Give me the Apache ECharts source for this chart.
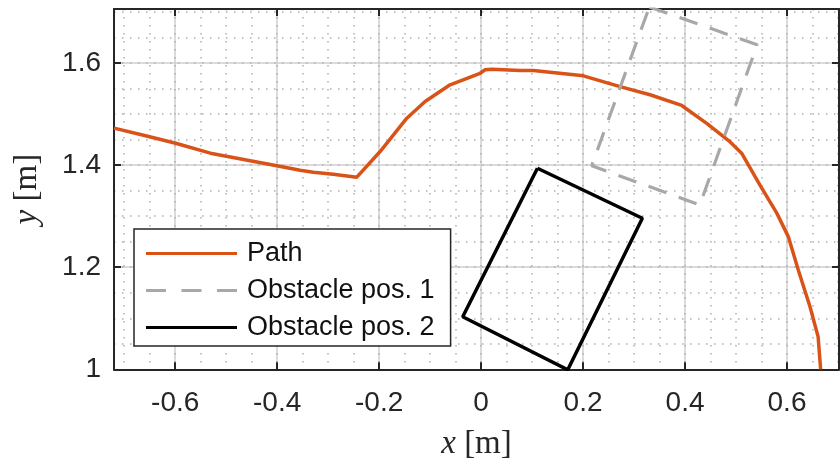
<!DOCTYPE html>
<html>
<head>
<meta charset="utf-8">
<script src="https://cdn.jsdelivr.net/npm/echarts@6/dist/echarts.min.js"></script>
<style>
  html, body { margin: 0; padding: 0; background: #fff; }
  #chart { width: 840px; height: 459px; }
</style>
</head>
<body>
<div id="chart"></div>
<script>
// Robot path in the plane, x/y in metres
const pathXY = [
  [-0.720, 1.4725], [-0.660, 1.458], [-0.599, 1.443], [-0.531, 1.4235],
  [-0.4006, 1.399], [-0.355, 1.390], [-0.329, 1.386], [-0.290, 1.382],
  [-0.2437, 1.3765], [-0.198, 1.4267], [-0.1457, 1.492], [-0.1098, 1.5247],
  [-0.0608, 1.5575], [-0.002, 1.580], [0.008, 1.587], [0.021, 1.588],
  [0.0765, 1.5855], [0.1026, 1.5855], [0.2006, 1.575], [0.2725, 1.554],
  [0.3314, 1.538], [0.3935, 1.517], [0.4425, 1.482], [0.488, 1.446],
  [0.511, 1.4235], [0.547, 1.361], [0.580, 1.306], [0.6025, 1.260],
  [0.622, 1.195], [0.645, 1.123], [0.661, 1.064], [0.666, 1.000]
];

// Obstacle outlines (closed rectangles)
const obstacle1XY = [[0.330, 1.710], [0.5415, 1.636], [0.429, 1.322], [0.217, 1.399], [0.330, 1.710]];
const obstacle2XY = [[0.1105, 1.394], [0.3163, 1.296], [0.170, 0.999], [-0.036, 1.103], [0.1105, 1.394]];

const seriesNames = ['Path', 'Obstacle pos. 1', 'Obstacle pos. 2'];

// Axis limits and tick spacing
const xLimits = [-0.72, 0.702];
const yLimits = [1.0, 1.706];
const majorStep = 0.2;
const minorStep = 0.05;

const axisColor = '#262626';
const tickFont = 'Liberation Sans, Arial, Helvetica, sans-serif';
const serifFont = 'Liberation Serif, Times New Roman, serif';

const nameRich = {
  i: { fontFamily: serifFont, fontStyle: 'italic', fontSize: 33, color: axisColor },
  n: { fontFamily: serifFont, fontSize: 33, color: axisColor }
};

function boxAxis(limits, position, showLabels, extra) {
  return Object.assign({
    type: 'value',
    min: limits[0],
    max: limits[1],
    position: position,
    splitNumber: Math.round((limits[1] - limits[0]) / majorStep),
    minInterval: majorStep,
    maxInterval: majorStep,
    axisLine: { show: true, onZero: false, lineStyle: { color: axisColor, width: 2 } },
    axisTick: { show: true, inside: true, length: 7, lineStyle: { color: axisColor, width: 2 } },
    axisLabel: {
      show: showLabels, fontSize: 28, color: axisColor, fontFamily: tickFont,
      showMinLabel: false, showMaxLabel: false
    },
    splitLine: { show: false },
    minorTick: { show: false }
  }, extra || {});
}

function minorAxis(limits, position) {
  return {
    type: 'value',
    min: limits[0],
    max: limits[1],
    position: position,
    splitNumber: Math.round((limits[1] - limits[0]) / minorStep),
    minInterval: minorStep,
    maxInterval: minorStep,
    axisLine: { show: false },
    axisTick: { show: false },
    axisLabel: { show: false },
    splitLine: { show: true, lineStyle: { color: '#b0b0b0', width: 1.5, type: [1.5, 6.5] } }
  };
}

const majorGrid = { show: true, lineStyle: { color: '#cfcfcf', width: 1.5 } };

const chart = echarts.init(document.getElementById('chart'), null, { renderer: 'canvas' });

chart.setOption({
  animation: false,
  backgroundColor: '#ffffff',
  grid: { left: 114, right: 1, top: 9, bottom: 89.7, containLabel: false, outerBoundsMode: 'none' },
  xAxis: [
    boxAxis(xLimits, 'bottom', true, {
      splitLine: majorGrid,
      axisLabel: {
        show: true, fontSize: 28, color: axisColor, fontFamily: tickFont, margin: 20,
        showMinLabel: false, showMaxLabel: false
      },
      name: '{i|x}{n| [m]}',
      nameLocation: 'middle',
      nameGap: 59,
      nameTextStyle: { rich: nameRich }
    }),
    boxAxis(xLimits, 'top', false),
    minorAxis(xLimits, 'bottom')
  ],
  yAxis: [
    boxAxis(yLimits, 'left', true, {
      splitLine: majorGrid,
      axisLabel: {
        show: true, fontSize: 28, color: axisColor, fontFamily: tickFont, margin: 13,
        showMinLabel: true, showMaxLabel: false
      },
      name: '{i|y}{n| [m]}',
      nameLocation: 'middle',
      nameRotate: 90,
      nameGap: 70,
      nameTextStyle: { rich: nameRich }
    }),
    boxAxis(yLimits, 'right', false),
    minorAxis(yLimits, 'left')
  ],
  legend: {
    orient: 'vertical',
    left: 134,
    top: 229,
    padding: [11, 16, 5, 12],
    itemGap: 10,
    itemWidth: 91,
    itemHeight: 3,
    backgroundColor: '#ffffff',
    borderColor: axisColor,
    borderWidth: 1.5,
    borderRadius: 0,
    itemStyle: { borderWidth: 0 },
    textStyle: { fontSize: 27, color: '#111111', fontFamily: tickFont, lineHeight: 26, padding: [0, 0, 0, 5] },
    data: [
      { name: seriesNames[0], icon: 'path://M0,0H91V3H0Z' },
      { name: seriesNames[1], icon: 'path://M0,0H20V3H0Z M35.5,0H55.5V3H35.5Z M71,0H91V3H71Z' },
      { name: seriesNames[2], icon: 'path://M0,0H91V3H0Z' }
    ]
  },
  series: [
    {
      type: 'line', name: seriesNames[0], data: pathXY,
      xAxisIndex: 0, yAxisIndex: 0, symbol: 'none', showSymbol: false, clip: true,
      lineStyle: { color: '#D95319', width: 3.5 }, itemStyle: { color: '#D95319' }
    },
    {
      type: 'line', name: seriesNames[1], data: obstacle1XY,
      xAxisIndex: 0, yAxisIndex: 0, symbol: 'none', showSymbol: false, clip: true,
      lineStyle: { color: '#a8a8a8', width: 3.2, type: [19, 13] }, itemStyle: { color: '#a8a8a8' }
    },
    {
      type: 'line', name: seriesNames[2], data: obstacle2XY,
      xAxisIndex: 0, yAxisIndex: 0, symbol: 'none', showSymbol: false, clip: true,
      lineStyle: { color: '#000000', width: 3.5 }, itemStyle: { color: '#000000' }
    }
  ]
});
</script>
</body>
</html>
